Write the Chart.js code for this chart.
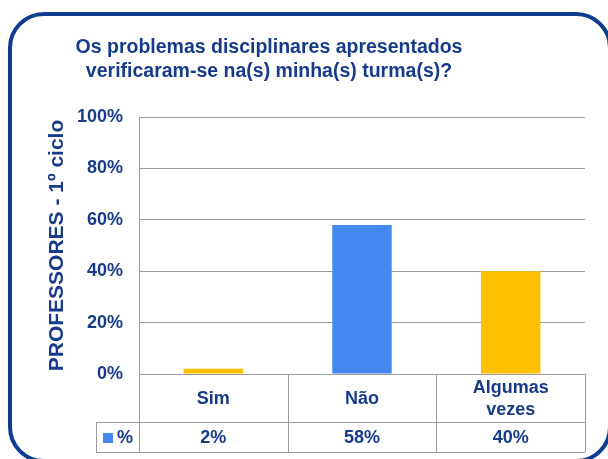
<!DOCTYPE html>
<html>
<head>
<meta charset="utf-8">
<script src="https://cdn.jsdelivr.net/npm/chart.js@4"></script>
<style>
  html, body { margin: 0; padding: 0; background: #fff; }
  #wrap { position: relative; width: 608px; height: 459px; overflow: hidden; }
  #frame {
    position: absolute; left: 8px; top: 12px; width: 604px; height: 451px;
    box-sizing: border-box; border: 4.5px solid #0E3C8F; border-radius: 36px;
  }
  canvas { position: absolute; left: 0; top: 0; }
</style>
</head>
<body>
<div id="wrap">
  <div id="frame"></div>
  <canvas id="chart" width="608" height="459"></canvas>
</div>
<script>
// data
const titleLines = ['Os problemas disciplinares apresentados', 'verificaram-se na(s) minha(s) turma(s)?']
const yTitle = 'PROFESSORES - 1º ciclo'
const categories = [['Sim'], ['Não'], ['Algumas', 'vezes']]
const seriesName = '%'
const values = [2, 58, 40]
const barColors = ['#FFC000', '#4589F0', '#FFC000']
const seriesColor = '#4589F0'

const textBlue = '#173B8B'
const gridGray = '#9C9C9C'
const font = '"Liberation Sans", Arial, sans-serif'

// title + data table under the plot
const tablePlugin = {
  id: 'dataTable',
  afterDraw(chart) {
    const {ctx, chartArea: a, scales: {x}} = chart
    const half = (x.getPixelForValue(1) - x.getPixelForValue(0)) / 2
    const edges = categories.map((c, i) => x.getPixelForValue(i) - half)
    edges.push(a.right)
    const row1 = a.bottom + 48, row2 = a.bottom + 78, legendLeft = a.left - 43

    ctx.save()
    ctx.fillStyle = textBlue
    ctx.textAlign = 'center'
    ctx.textBaseline = 'alphabetic'
    ctx.font = 'bold 19.5px ' + font
    titleLines.forEach((t, i) => ctx.fillText(t, 269, 53 + i * 24))

    ctx.strokeStyle = gridGray
    ctx.lineWidth = 1
    ctx.beginPath()
    edges.forEach(e => {
      const px = Math.round(e) + 0.5
      ctx.moveTo(px, a.bottom); ctx.lineTo(px, row2)
    })
    ctx.moveTo(legendLeft + 0.5, row1); ctx.lineTo(legendLeft + 0.5, row2)
    ctx.moveTo(legendLeft, row1 + 0.5); ctx.lineTo(a.right, row1 + 0.5)
    ctx.moveTo(legendLeft, row2 + 0.5); ctx.lineTo(a.right, row2 + 0.5)
    ctx.stroke()

    ctx.font = 'bold 18px ' + font
    ctx.textBaseline = 'middle'
    categories.forEach((lines, i) => {
      const cx = x.getPixelForValue(i)
      const mid = (a.bottom + row1) / 2 + 1
      lines.forEach((l, j) => ctx.fillText(l, cx, mid + (j - (lines.length - 1) / 2) * 22))
      ctx.fillText(values[i] + '%', cx, (row1 + row2) / 2 + 1)
    })
    ctx.fillStyle = seriesColor
    ctx.fillRect(legendLeft + 7, row1 + 11, 10, 10)
    ctx.fillStyle = textBlue
    ctx.textAlign = 'left'
    ctx.fillText(seriesName, legendLeft + 21, (row1 + row2) / 2 + 1)
    ctx.restore()
  }
}

new Chart(document.getElementById('chart'), {
  type: 'bar',
  data: {
    labels: categories,
    datasets: [{
      label: seriesName,
      data: values,
      backgroundColor: barColors,
      barPercentage: 0.4,
      categoryPercentage: 1
    }]
  },
  options: {
    responsive: false,
    animation: false,
    layout: {padding: {top: 117, left: 45, right: 23, bottom: 85}},
    plugins: {legend: {display: false}, tooltip: {enabled: false}},
    scales: {
      x: {display: false},
      y: {
        min: 0, max: 100,
        afterFit(scale) { scale.width = 94 },
        ticks: {
          stepSize: 20,
          padding: 16,
          color: textBlue,
          font: {family: font, size: 18, weight: 'bold'},
          callback: v => v + '%'
        },
        grid: {color: gridGray, drawTicks: false},
        border: {color: gridGray},
        title: {
          display: true,
          text: yTitle,
          color: textBlue,
          padding: 0,
          font: {family: font, size: 21, weight: 'bold'}
        }
      }
    }
  },
  plugins: [tablePlugin]
})
</script>
</body>
</html>
